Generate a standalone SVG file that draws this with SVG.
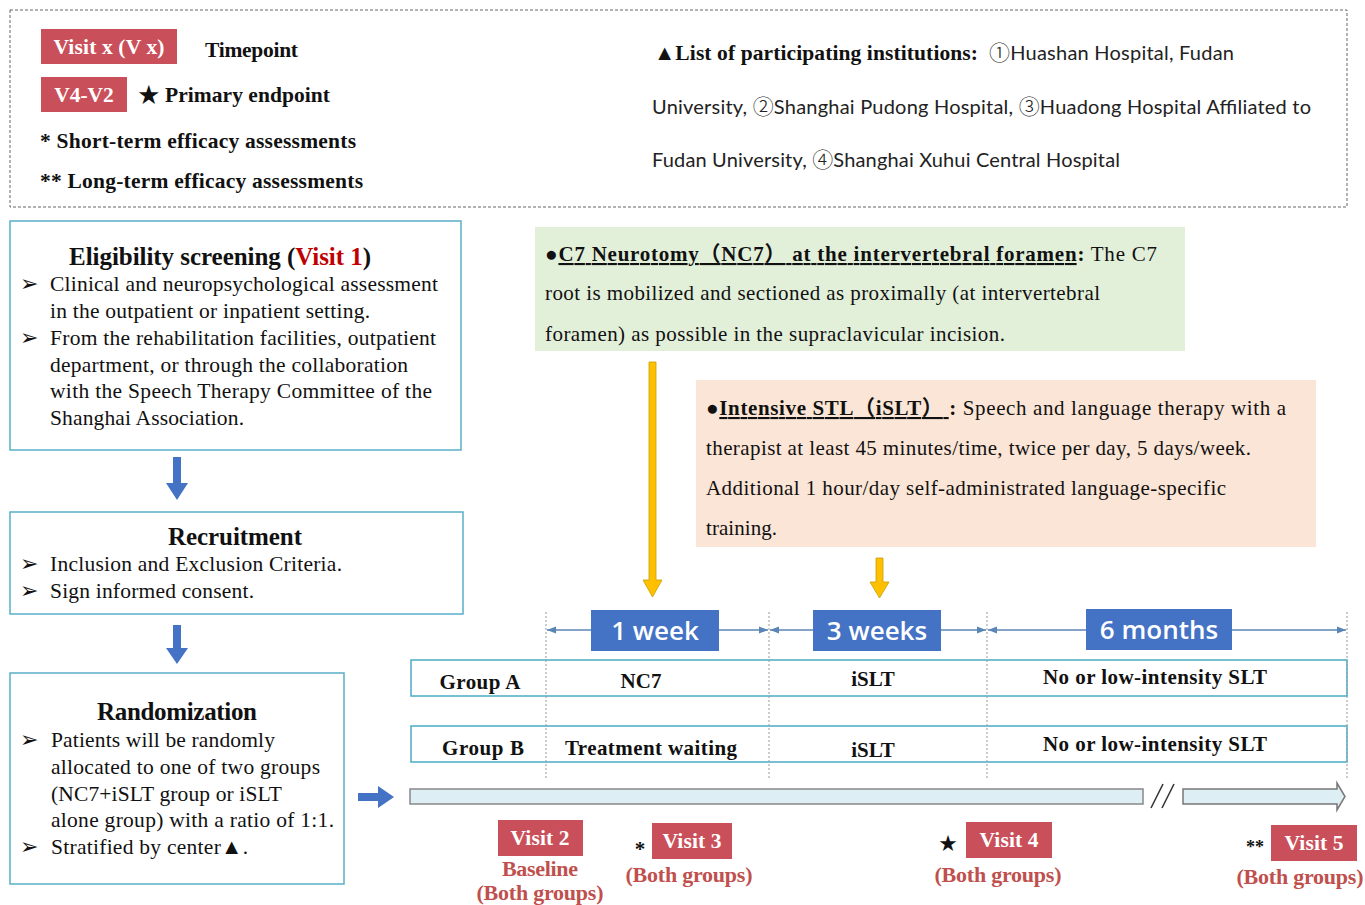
<svg xmlns="http://www.w3.org/2000/svg" width="1365" height="905" viewBox="0 0 1365 905">
<defs>
<style>
.s{font-family:"Liberation Serif","Noto Sans CJK SC",serif;fill:#111}
.b{font-weight:bold}
.sans{font-family:Lato,"Liberation Sans","Noto Sans CJK SC",sans-serif;fill:#222}
.cj{font-family:"Noto Sans CJK SC",sans-serif;font-weight:300;font-size:21px}
.box{fill:#fff;stroke:#5aafc9;stroke-width:1.5}
.red{fill:#c9505a}
.wt{font-family:"Liberation Serif",serif;font-weight:bold;fill:#fff;font-size:21.5px;text-anchor:middle}
.rt{font-family:"Liberation Serif",serif;font-weight:bold;fill:#c0504d;font-size:22px;text-anchor:middle}
.blu{fill:#4472c4}
.bt{font-family:"Open Sans","Liberation Sans",sans-serif;font-weight:600;fill:#fff;font-size:26px;text-anchor:middle}
.dv{stroke:#999;stroke-width:1;stroke-dasharray:2 2}
.dur{stroke:#5b85b5;stroke-width:1.5;fill:none}
.row{fill:#fff;stroke:#4bacc6;stroke-width:1.5}
</style>
<marker id="ah" viewBox="0 0 10 10" refX="10" refY="5" markerWidth="6" markerHeight="6" orient="auto-start-reverse"><path d="M0,1 L10,5 L0,9 z" fill="#5b85b5"/></marker>
</defs>
<rect width="1365" height="905" fill="#fff"/>

<g id="legend">
<rect x="10" y="10" width="1337" height="197" fill="none" stroke="#666" stroke-width="1" stroke-dasharray="3 2"/>
<rect class="red" x="41" y="29" width="136" height="35"/>
<text class="wt" x="109" y="54" font-size="21" textLength="111" lengthAdjust="spacing">Visit x (V x)</text>
<text class="s b" x="205" y="57" font-size="21.5" textLength="93" lengthAdjust="spacing">Timepoint</text>
<rect class="red" x="41" y="77" width="86" height="35"/>
<text class="wt" x="84" y="102" font-size="21">V4-V2</text>
<text class="s b" x="138" y="102" font-size="21.5" textLength="192" lengthAdjust="spacing">★ Primary endpoint</text>
<text class="s b" x="40" y="148" font-size="21.5" textLength="316" lengthAdjust="spacing">* Short-term efficacy assessments</text>
<text class="s b" x="40" y="188" font-size="21.5" textLength="323" lengthAdjust="spacing">** Long-term efficacy assessments</text>
<text class="s b" x="654" y="60" font-size="21.5" textLength="324" lengthAdjust="spacing">▲List of participating institutions:</text>
<text class="sans" x="989" y="60" font-size="20" textLength="245" lengthAdjust="spacing"><tspan class="cj">①</tspan>Huashan Hospital, Fudan</text>
<text class="sans" x="652" y="114" font-size="20" textLength="659" lengthAdjust="spacing">University, <tspan class="cj">②</tspan>Shanghai Pudong Hospital, <tspan class="cj">③</tspan>Huadong Hospital Affiliated to</text>
<text class="sans" x="652" y="167" font-size="20" textLength="468" lengthAdjust="spacing">Fudan University, <tspan class="cj">④</tspan>Shanghai Xuhui Central Hospital</text>
</g>

<g id="eligibility">
<rect class="box" x="10" y="221" width="451" height="229"/>
<text class="s b" x="220" y="265" font-size="25" text-anchor="middle" textLength="302" lengthAdjust="spacing">Eligibility screening (<tspan fill="#c00000">Visit 1</tspan>)</text>
<g class="s" font-size="21.5">
<text x="20" y="291">➢</text><text x="50" y="291" textLength="388" lengthAdjust="spacing">Clinical and neuropsychological assessment</text>
<text x="50" y="318" textLength="320" lengthAdjust="spacing">in the outpatient or inpatient setting.</text>
<text x="20" y="345">➢</text><text x="50" y="345" textLength="386" lengthAdjust="spacing">From the rehabilitation facilities, outpatient</text>
<text x="50" y="372" textLength="358" lengthAdjust="spacing">department, or through the collaboration</text>
<text x="50" y="398" textLength="382" lengthAdjust="spacing">with the Speech Therapy Committee of the</text>
<text x="50" y="425" textLength="194" lengthAdjust="spacing">Shanghai Association.</text>
</g>
</g>

<g id="recruitment">
<rect class="box" x="10" y="512" width="453" height="102"/>
<text class="s b" x="235" y="545" font-size="25" text-anchor="middle" textLength="134" lengthAdjust="spacing">Recruitment</text>
<g class="s" font-size="21.5">
<text x="20" y="571">➢</text><text x="50" y="571" textLength="292" lengthAdjust="spacing">Inclusion and Exclusion Criteria.</text>
<text x="20" y="598">➢</text><text x="50" y="598" textLength="204" lengthAdjust="spacing">Sign informed consent.</text>
</g>
</g>

<g id="randomization">
<rect class="box" x="10" y="673" width="334" height="211"/>
<text class="s b" x="177" y="720" font-size="25" text-anchor="middle" textLength="160" lengthAdjust="spacing">Randomization</text>
<g class="s" font-size="21.5">
<text x="20" y="747">➢</text><text x="51" y="747" textLength="224" lengthAdjust="spacing">Patients will be randomly</text>
<text x="51" y="774" textLength="269" lengthAdjust="spacing">allocated to one of two groups</text>
<text x="51" y="801" textLength="231" lengthAdjust="spacing">(NC7+iSLT group or iSLT</text>
<text x="51" y="827" textLength="283" lengthAdjust="spacing">alone group) with a ratio of 1:1.</text>
<text x="20" y="854">➢</text><text x="51" y="854" textLength="197" lengthAdjust="spacing">Stratified by center▲.</text>
</g>
</g>

<g id="nc7-note">
<rect x="535" y="227" width="650" height="124" fill="#e2efd9"/>
<text class="s" x="545" y="261" font-size="21" textLength="612" lengthAdjust="spacing"><tspan class="b">●</tspan><tspan class="b" text-decoration="underline">C7 Neurotomy（NC7） at the intervertebral foramen</tspan><tspan class="b">:</tspan> The C7</text>
<text class="s" x="545" y="300" font-size="21" textLength="555" lengthAdjust="spacing">root is mobilized and sectioned as proximally (at intervertebral</text>
<text class="s" x="545" y="341" font-size="21" textLength="460" lengthAdjust="spacing">foramen) as possible in the supraclavicular incision.</text>
</g>

<g id="islt-note">
<rect x="696" y="380" width="620" height="167" fill="#fbe5d6"/>
<text class="s" x="706" y="415" font-size="21" textLength="580" lengthAdjust="spacing"><tspan class="b">●</tspan><tspan class="b" text-decoration="underline">Intensive STL（iSLT） </tspan><tspan class="b">:</tspan> Speech and language therapy with a</text>
<text class="s" x="706" y="455" font-size="21" textLength="545" lengthAdjust="spacing">therapist at least 45 minutes/time, twice per day, 5 days/week.</text>
<text class="s" x="706" y="495" font-size="21" textLength="520" lengthAdjust="spacing">Additional 1 hour/day self-administrated language-specific</text>
<text class="s" x="706" y="535" font-size="21" textLength="71" lengthAdjust="spacing">training.</text>
</g>

<g id="group-a">
<rect class="row" x="411" y="660" width="936" height="36"/>
<g class="s b" font-size="21" text-anchor="middle">
<text x="480" y="689" textLength="81" lengthAdjust="spacing">Group A</text>
<text x="641" y="688">NC7</text>
<text x="873" y="686">iSLT</text>
<text x="1155" y="684" textLength="224" lengthAdjust="spacing">No or low-intensity SLT</text>
</g>
</g>

<g id="group-b">
<rect class="row" x="411" y="726" width="936" height="36"/>
<g class="s b" font-size="21" text-anchor="middle">
<text x="483" y="755" textLength="82" lengthAdjust="spacing">Group B</text>
<text x="651" y="755" textLength="172" lengthAdjust="spacing">Treatment waiting</text>
<text x="873" y="757">iSLT</text>
<text x="1155" y="751" textLength="224" lengthAdjust="spacing">No or low-intensity SLT</text>
</g>
</g>

<g id="connectors">
<path d="M173,457 h8 v26 h7 l-11,17 l-11,-17 h7 z" fill="#4472c4"/>
<path d="M173,625 h8 v23 h7 l-11,16 l-11,-16 h7 z" fill="#4472c4"/>
<path d="M358,793 h20 v-7 l16,11 l-16,11 v-7 h-20 z" fill="#4472c4"/>
<path d="M649,362 h7 v218 h6 l-9.5,17 l-9.5,-17 h6 z" fill="#ffc000" stroke="#c8a000" stroke-width="0.8"/>
<path d="M876,558 h7 v24 h6 l-9.5,16 l-9.5,-16 h6 z" fill="#ffc000" stroke="#c8a000" stroke-width="0.8"/>
<line class="dv" x1="546" y1="612" x2="546" y2="778"/>
<line class="dv" x1="769" y1="612" x2="769" y2="778"/>
<line class="dv" x1="987" y1="612" x2="987" y2="778"/>
<line class="dv" x1="1347" y1="612" x2="1347" y2="778"/>
<line class="dur" x1="547" y1="630" x2="768" y2="630" marker-start="url(#ah)" marker-end="url(#ah)"/>
<line class="dur" x1="770" y1="630" x2="986" y2="630" marker-start="url(#ah)" marker-end="url(#ah)"/>
<line class="dur" x1="988" y1="630" x2="1346" y2="630" marker-start="url(#ah)" marker-end="url(#ah)"/>
<rect x="410" y="789" width="733" height="15" fill="#deeef5" stroke="#888" stroke-width="1.5"/>
<line x1="1151" y1="808" x2="1163" y2="784" stroke="#333" stroke-width="1.5"/>
<line x1="1162" y1="808" x2="1174" y2="784" stroke="#333" stroke-width="1.5"/>
<path d="M1183,789 H1337 V783 L1345,796.5 L1337,810 V804 H1183 Z" fill="#deeef5" stroke="#777" stroke-width="1.5"/>
</g>

<g id="durations">
<rect class="blu" x="591" y="610" width="128" height="41"/>
<text class="bt" x="655" y="640">1 week</text>
<rect class="blu" x="813" y="610" width="128" height="41"/>
<text class="bt" x="877" y="640">3 weeks</text>
<rect class="blu" x="1086" y="609" width="146" height="41"/>
<text class="bt" x="1159" y="639">6 months</text>
</g>

<g id="visit2">
<rect class="red" x="498" y="820" width="85" height="36"/>
<text class="wt" x="540" y="845" textLength="59" lengthAdjust="spacing">Visit 2</text>
<text class="rt" x="540" y="876" textLength="76" lengthAdjust="spacing">Baseline</text>
<text class="rt" x="540" y="900" textLength="127" lengthAdjust="spacing">(Both groups)</text>
</g>
<g id="visit3">
<text class="s b" x="640" y="856" font-size="21" text-anchor="middle">*</text>
<rect class="red" x="652" y="823" width="80" height="36"/>
<text class="wt" x="692" y="848" textLength="59" lengthAdjust="spacing">Visit 3</text>
<text class="rt" x="689" y="882" textLength="127" lengthAdjust="spacing">(Both groups)</text>
</g>
<g id="visit4">
<text class="s" x="948" y="850" font-size="18" text-anchor="middle">★</text>
<rect class="red" x="966" y="822" width="86" height="36"/>
<text class="wt" x="1009" y="847" textLength="59" lengthAdjust="spacing">Visit 4</text>
<text class="rt" x="998" y="882" textLength="127" lengthAdjust="spacing">(Both groups)</text>
</g>
<g id="visit5">
<text class="s b" x="1255" y="853" font-size="18" text-anchor="middle">**</text>
<rect class="red" x="1271" y="825" width="86" height="36"/>
<text class="wt" x="1314" y="850" textLength="59" lengthAdjust="spacing">Visit 5</text>
<text class="rt" x="1300" y="884" textLength="127" lengthAdjust="spacing">(Both groups)</text>
</g>
</svg>
